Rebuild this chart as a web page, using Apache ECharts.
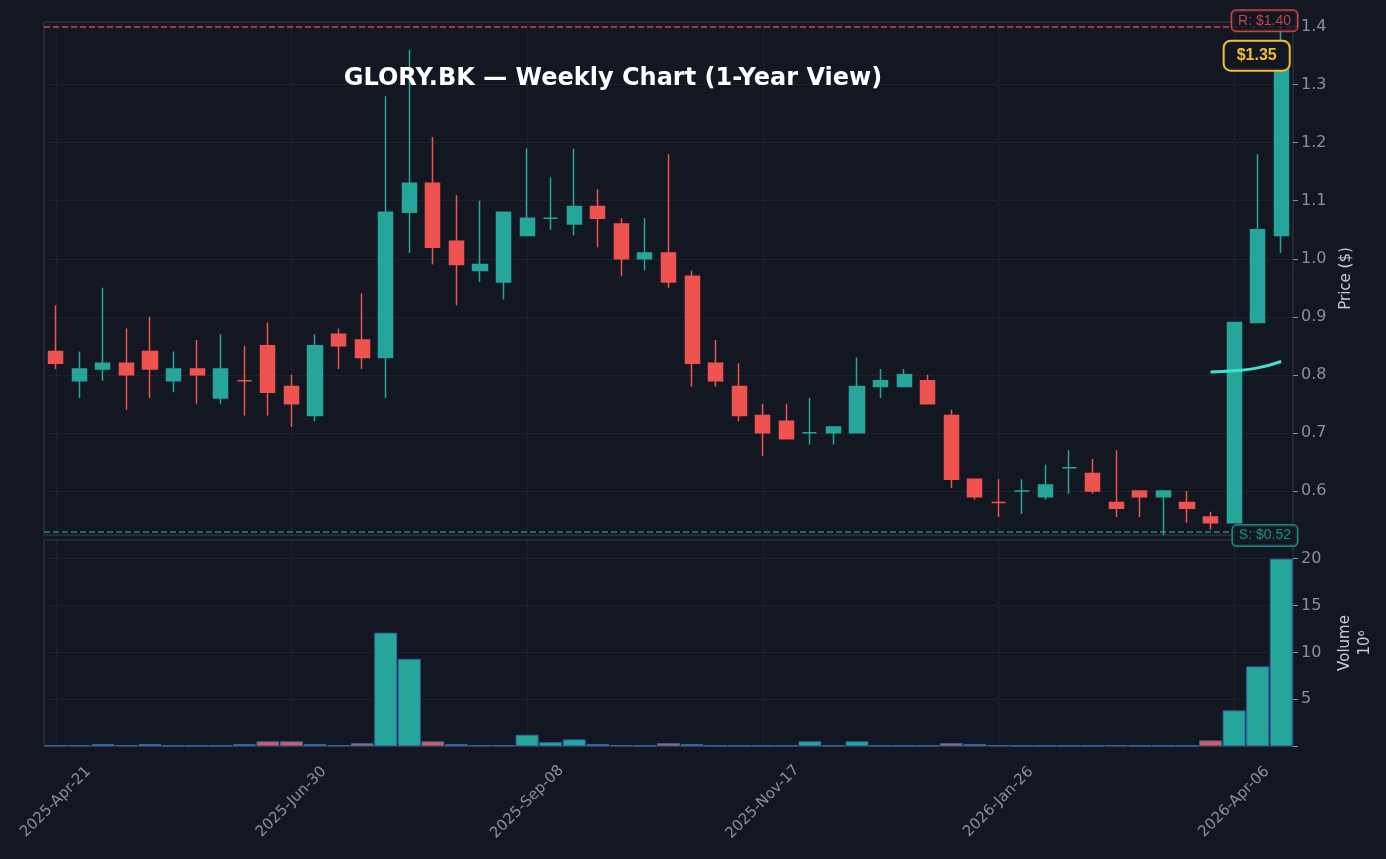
<!DOCTYPE html>
<html>
<head>
<meta charset="utf-8">
<script src="https://cdn.jsdelivr.net/npm/echarts@6/dist/echarts.min.js"></script>
<style>
	html, body { margin: 0; padding: 0; background: #131722; }
	#chart { width: 1386px; height: 859px; }
</style>
</head>
<body>
<div id="chart"></div>
<script>
// weekly candles, [open, close, low, high]
const opens  = [0.84,0.79,0.81,0.82,0.84,0.79,0.81,0.76,0.79,0.85,0.78,0.73,0.87,0.86,0.83,1.08,1.13,1.03,0.98,0.96,1.04,1.07,1.06,1.09,1.06,1.00,1.01,0.97,0.82,0.78,0.73,0.72,0.70,0.70,0.70,0.78,0.78,0.79,0.73,0.62,0.58,0.60,0.59,0.64,0.63,0.58,0.60,0.59,0.58,0.555,0.545,0.89,1.04]
const closes = [0.82,0.81,0.82,0.80,0.81,0.81,0.80,0.81,0.79,0.77,0.75,0.85,0.85,0.83,1.08,1.13,1.02,0.99,0.99,1.08,1.07,1.07,1.09,1.07,1.00,1.01,0.96,0.82,0.79,0.73,0.70,0.69,0.70,0.71,0.78,0.79,0.80,0.75,0.62,0.59,0.58,0.60,0.61,0.64,0.60,0.57,0.59,0.60,0.57,0.545,0.89,1.05,1.35]
const lows   = [0.81,0.76,0.79,0.74,0.76,0.77,0.75,0.75,0.73,0.73,0.71,0.72,0.81,0.81,0.76,1.01,0.99,0.92,0.96,0.93,1.04,1.05,1.04,1.02,0.97,0.98,0.95,0.78,0.78,0.72,0.66,0.69,0.68,0.68,0.70,0.76,0.78,0.75,0.605,0.585,0.555,0.56,0.585,0.595,0.595,0.555,0.555,0.524,0.545,0.533,0.545,0.89,1.01]
const highs  = [0.92,0.84,0.95,0.88,0.90,0.84,0.86,0.87,0.85,0.89,0.80,0.87,0.88,0.94,1.28,1.36,1.21,1.11,1.10,1.08,1.19,1.14,1.19,1.12,1.07,1.07,1.18,0.98,0.86,0.82,0.75,0.75,0.76,0.71,0.83,0.81,0.81,0.80,0.74,0.62,0.62,0.62,0.645,0.67,0.655,0.67,0.60,0.60,0.60,0.564,0.89,1.18,1.40]
// volume, millions
const volumes = [0.1,0.1,0.2,0.1,0.2,0.05,0.05,0.05,0.2,0.5,0.5,0.2,0.1,0.3,12.1,9.3,0.5,0.2,0.1,0.1,1.2,0.4,0.7,0.2,0.1,0.05,0.3,0.2,0.05,0.05,0.05,0.05,0.5,0.05,0.5,0.05,0.05,0.05,0.3,0.2,0.1,0.05,0.05,0.05,0.05,0.1,0.05,0.05,0.05,0.6,3.8,8.5,20.0]
// moving average, only the last weeks are drawn
const maValues = [0.805,0.807,0.812,0.823]
const resistance = 1.40
const support = 0.525
const lastPrice = 1.35
const labelStep = 10

const months = ["Jan","Feb","Mar","Apr","May","Jun","Jul","Aug","Sep","Oct","Nov","Dec"]
let dates = []
{
	let d = new Date(Date.UTC(2025, 3, 21))
	for (let i = 0; i < opens.length; i++) {
		let dd = String(d.getUTCDate()).padStart(2, "0")
		dates.push(d.getUTCFullYear() + "-" + months[d.getUTCMonth()] + "-" + dd)
		d = new Date(d.getTime() + 7 * 86400000)
	}
}

const UP = "#26a69a"
const DOWN = "#ef5350"
const axisText = "#8a8f98"
const gridLine = "#2a2e39"

let candles = opens.map(function (o, i) {
	return [o, closes[i], lows[i], highs[i]]
})
let volBars = volumes.map(function (v, i) {
	return {
		value: v,
		itemStyle: { color: closes[i] >= opens[i] ? UP : DOWN }
	}
})
let maData = dates.map(function (d, i) {
	let k = i - (dates.length - maValues.length)
	return k >= 0 ? maValues[k] : null
})

// vertical dotted grid lines through the labelled weeks
let vLines = []
for (let i = 0; i < dates.length; i += labelStep) {
	vLines.push({ xAxis: dates[i] })
}
let vLineStyle = { color: gridLine, type: "dotted", width: 1, opacity: 1 }

let chart = echarts.init(document.getElementById("chart"))
let option = {
	backgroundColor: "#131722",
	animation: false,
	title: {
		text: "GLORY.BK — Weekly Chart (1-Year View)",
		left: 608,
		top: 62,
		textAlign: "center",
		textStyle: { color: "#ffffff", fontSize: 24, fontWeight: "bold", fontFamily: "DejaVu Sans" }
	},
	grid: [
		{ left: 44, right: 93, top: 22, height: 513, show: true, borderColor: "#363a45", outerBoundsMode: "none", containLabel: false },
		{ left: 44, right: 93, top: 540, height: 206, show: true, borderColor: "#363a45", outerBoundsMode: "none", containLabel: false }
	],
	xAxis: [
		{
			type: "category", gridIndex: 0, data: dates,
			axisLine: { show: false }, axisTick: { show: false }, axisLabel: { show: false },
			splitLine: { show: false }
		},
		{
			type: "category", gridIndex: 1, data: dates,
			axisLine: { lineStyle: { color: "#363a45" } },
			axisTick: { interval: labelStep - 1, alignWithLabel: true, length: 6, lineStyle: { color: axisText } },
			axisLabel: { interval: labelStep - 1, rotate: 45, align: "center", verticalAlign: "middle",
				color: axisText, fontSize: 15, fontFamily: "DejaVu Sans", margin: 56 },
			splitLine: { show: false }
		}
	],
	yAxis: [
		{
			gridIndex: 0, position: "right", min: 0.524, max: 1.408, splitNumber: 9,
			name: "Price ($)", nameLocation: "middle", nameGap: 46, nameRotate: 90,
			nameTextStyle: { color: "#c8ccd4", fontSize: 15, fontFamily: "DejaVu Sans" },
			axisLine: { show: false },
			axisTick: { show: true, lineStyle: { color: axisText } },
			axisLabel: { color: axisText, fontSize: 16, fontFamily: "DejaVu Sans", showMinLabel: false, showMaxLabel: false,
				formatter: function (v) { return v.toFixed(1) } },
			splitLine: { lineStyle: { color: gridLine, type: "dotted" } }
		},
		{
			gridIndex: 1, position: "right", min: 0, max: 22, interval: 5,
			name: "Volume\n10⁶", nameLocation: "middle", nameGap: 42, nameRotate: 90,
			nameTextStyle: { color: "#c8ccd4", fontSize: 15, fontFamily: "DejaVu Sans", lineHeight: 20 },
			axisLine: { show: false },
			axisTick: { show: true, lineStyle: { color: axisText } },
			axisLabel: { color: axisText, fontSize: 16, fontFamily: "DejaVu Sans", showMaxLabel: false,
				formatter: function (v) { return v === 0 ? "" : v } },
			splitLine: { lineStyle: { color: gridLine, type: "dotted" } }
		}
	],
	series: [
		{
			type: "line", xAxisIndex: 0, yAxisIndex: 0, data: [], silent: true, z: 0,
			markLine: { symbol: "none", silent: true, z: 0, label: { show: false }, lineStyle: vLineStyle, data: vLines }
		},
		{
			type: "line", xAxisIndex: 1, yAxisIndex: 1, data: [], silent: true, z: 0,
			markLine: { symbol: "none", silent: true, z: 0, label: { show: false }, lineStyle: vLineStyle, data: vLines }
		},
		{
			type: "candlestick", xAxisIndex: 0, yAxisIndex: 0, data: candles, barWidth: "62%", z: 3,
			itemStyle: { color: UP, color0: DOWN, borderColor: UP, borderColor0: DOWN, borderWidth: 1.5 },
			markLine: {
				symbol: "none", silent: true,
				data: [
					{
						yAxis: resistance,
						lineStyle: { color: DOWN, type: "dashed", width: 1.5, opacity: 0.8 },
						label: { position: "insideEndTop", formatter: "R: $1.40", color: DOWN, fontSize: 14,
							backgroundColor: "#131722", borderColor: DOWN, borderWidth: 1.5, borderRadius: 4, padding: [3, 6], distance: [-4, -4] }
					},
					{
						yAxis: support,
						lineStyle: { color: UP, type: "dashed", width: 1.5, opacity: 0.8 },
						label: { position: "insideEndBottom", formatter: "S: $0.52", color: UP, fontSize: 14,
							backgroundColor: "#131722", borderColor: UP, borderWidth: 1.5, borderRadius: 4, padding: [3, 6], distance: [-4, -6] }
					}
				]
			},
			markPoint: {
				symbol: "rect", symbolSize: 1, silent: true,
				itemStyle: { color: "transparent" },
				data: [
					{
						coord: [dates.length - 1, lastPrice],
						label: { show: true, position: "left", distance: -8, formatter: "$1.35", color: "#f5c02c", fontSize: 16, fontWeight: "bold",
							backgroundColor: "#131722", borderColor: "#f5c02c", borderWidth: 2, borderRadius: 6, padding: [6, 12] }
					}
				]
			}
		},
		{
			type: "line", xAxisIndex: 0, yAxisIndex: 0, data: maData, smooth: true, showSymbol: false, z: 4,
			lineStyle: { color: "#40e0d0", width: 3 }
		},
		{
			type: "bar", xAxisIndex: 1, yAxisIndex: 1, data: volBars, barCategoryGap: "3%", z: 3,
			itemStyle: { borderColor: "#2b6cb0", borderWidth: 1 }
		}
	]
}
chart.setOption(option)
</script>
</body>
</html>
